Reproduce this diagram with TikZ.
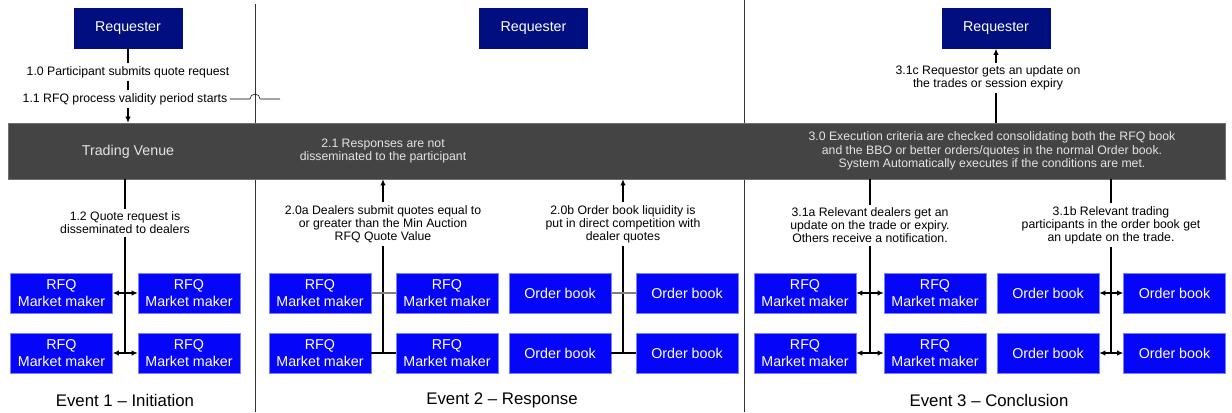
\documentclass[tikz,border=0pt]{standalone}
\usepackage{fontspec}
\setmainfont{Liberation Sans}
\usetikzlibrary{arrows.meta}
\definecolor{reqblue}{RGB}{0,14,128}
\definecolor{mmblue}{RGB}{5,5,250}
\definecolor{mmedge}{RGB}{120,130,255}
\definecolor{venue}{RGB}{68,68,68}
\definecolor{venueedge}{RGB}{112,112,112}
\definecolor{venuetext}{RGB}{228,228,228}
\tikzset{
  req/.style={draw=reqblue,fill=reqblue,text=white,minimum width=81pt,minimum height=30pt,inner sep=0pt,font=\fontsize{10.7}{12.5}\selectfont},
  mm/.style={draw=mmedge,fill=mmblue,text=white,minimum width=76.5pt,minimum height=30pt,inner sep=0pt,align=center,font=\fontsize{10.7}{12.7}\selectfont},
  lbl/.style={fill=white,align=center,inner sep=2pt,font=\fontsize{9.2}{9.8}\selectfont},
  vtxt/.style={text=venuetext,align=center,font=\fontsize{9.2}{10}\selectfont},
  evt/.style={font=\fontsize{12.6}{14}\selectfont},
  link/.style={line width=0.8pt},
}

\begin{document}
\begin{tikzpicture}[x=0.75pt,y=-0.75pt,>={Latex[length=4.5pt,width=4pt]}]
\useasboundingbox (0,0) rectangle (1232,412);
\draw[line width=0.6pt,black!80] (255,4) -- (255,412) (744,0) -- (744,412);
\node[draw=venueedge,fill=venue,minimum width=912.75pt,minimum height=42pt,inner sep=0pt] (tv) at (616.5,151) {};
\node[req] (r1) at (128,28.5) {Requester};
\node[req] (r2) at (533.5,28.5) {Requester};
\node[req] (r3) at (996,28.5) {Requester};
\path (128,152) node[vtxt,font=\fontsize{10.7}{12.5}\selectfont] (t1) {Trading Venue}
      (383,151) node[vtxt] (t2) {2.1 Responses are not\\disseminated to the participant}
      (992,151) node[vtxt] (t3) {3.0 Execution criteria are checked consolidating both the RFQ book\\and the BBO or better orders/quotes in the normal Order book.\\System Automatically executes if the conditions are met.};
\path (61.5,293) node[mm] (a1) {RFQ\\Market maker}
      (189,293)  node[mm] (b1) {RFQ\\Market maker}
      (61.5,353) node[mm] (a2) {RFQ\\Market maker}
      (189,353)  node[mm] (b2) {RFQ\\Market maker}
      (320,293)  node[mm] (c1) {RFQ\\Market maker}
      (447,293)  node[mm] (d1) {RFQ\\Market maker}
      (320,353)  node[mm] (c2) {RFQ\\Market maker}
      (447,353)  node[mm] (d2) {RFQ\\Market maker}
      (560,293)  node[mm] (e1) {Order book}
      (687,293)  node[mm] (f1) {Order book}
      (560,353)  node[mm] (e2) {Order book}
      (687,353)  node[mm] (f2) {Order book}
      (805,293)  node[mm] (g1) {RFQ\\Market maker}
      (935,293)  node[mm] (h1) {RFQ\\Market maker}
      (805,353)  node[mm] (g2) {RFQ\\Market maker}
      (935,353)  node[mm] (h2) {RFQ\\Market maker}
      (1048,293) node[mm] (i1) {Order book}
      (1174.5,293) node[mm] (j1) {Order book}
      (1048,353) node[mm] (i2) {Order book}
      (1174.5,353) node[mm] (j2) {Order book};
\path (128,72)  node[lbl] (l10) {1.0 Participant submits quote request}
      (125,99)  node[lbl] (l11) {1.1 RFQ process validity period starts}
      (125,223) node[lbl] (l12) {1.2 Quote request is\\disseminated to dealers}
      (383,224) node[lbl] (l20a) {2.0a Dealers submit quotes equal to\\or greater than the Min Auction\\RFQ Quote Value}
      (623,224) node[lbl] (l20b) {2.0b Order book liquidity is\\put in direct competition with\\dealer quotes}
      (988,78)  node[lbl] (l31c) {3.1c Requestor gets an update on\\the trades or session expiry}
      (870,225) node[lbl] (l31a) {3.1a Relevant dealers get an\\update on the trade or expiry.\\Others receive a notification.}
      (1111,225) node[lbl] (l31b) {3.1b Relevant trading\\participants in the order book get\\an update on the trade.};
\coordinate (hop) at (250,99);
\coordinate (hopend) at (280,99);
\draw[link] (r1.south) -- (l10.north -| r1.south);
\draw[link] (l10.south -| r1.south) -- (l11.north -| r1.south);
\draw[link,->] (l11.south -| r1.south) -- (tv.north -| r1.south);
\draw[thin] (l11.east) -- (hop) arc[start angle=180,end angle=0,radius=3.75pt] -- (hopend);
\draw[link] (tv.south -| l12) -- (l12.north);
\draw[link] (l12.south) -- (l12.south |- a2.east);
\draw[link,<->] (a1) -- (b1);
\draw[link,<->] (a2) -- (b2);
\draw[link,->] (l20a.north) -- (tv.south -| l20a.north);
\draw[link] (l20a.south) -- (l20a.south |- c2.east);
\draw[link,gray] (c1) -- (d1);
\draw[link] (c2) -- (d2);
\draw[link,->] (l20b.north) -- (tv.south -| l20b.north);
\draw[link] (l20b.south) -- (l20b.south |- e2.east);
\draw[link,gray] (e1) -- (f1);
\draw[link] (e2) -- (f2);
\draw[link] (tv.north -| r3) -- (l31c.south -| r3);
\draw[link,->] (l31c.north -| r3) -- (r3.south);
\draw[link] (tv.south -| l31a) -- (l31a.north);
\draw[link] (l31a.south) -- (l31a.south |- g2.east);
\draw[link,<->] (g1) -- (h1);
\draw[link,<->] (g2) -- (h2);
\draw[link] (tv.south -| l31b) -- (l31b.north);
\draw[link] (l31b.south) -- (l31b.south |- i2.east);
\draw[link,<->] (i1) -- (j1);
\draw[link,<->] (i2) -- (j2);
\path (125,400) node[evt] (ev1) {Event 1 – Initiation}
      (502,400) node[evt] (ev2) {Event 2 – Response}
      (989,400) node[evt] (ev3) {Event 3 – Conclusion};
\end{tikzpicture}
\end{document}
